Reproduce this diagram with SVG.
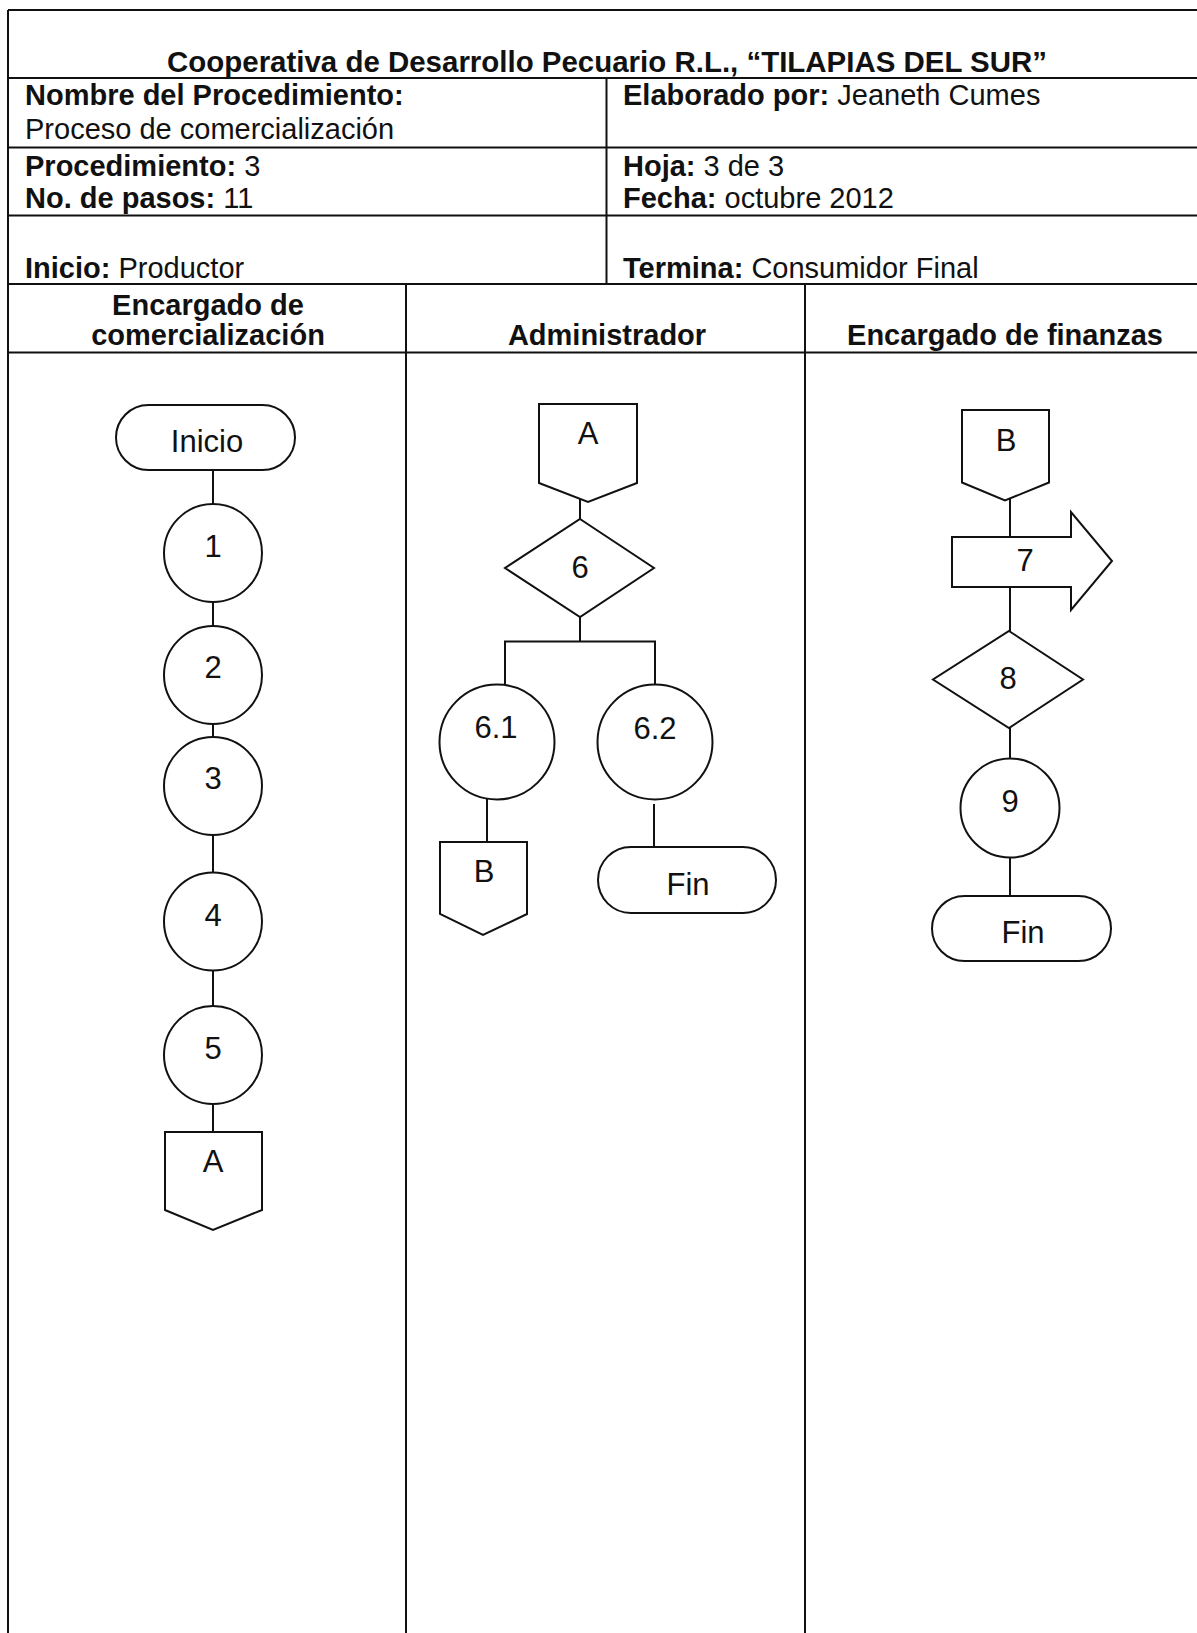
<svg xmlns="http://www.w3.org/2000/svg" width="1197" height="1633" viewBox="0 0 1197 1633">
<style>
.ln{stroke:#111;stroke-width:2;fill:none}
.sh{stroke:#111;stroke-width:2;fill:#fff}
.t{font-family:"Liberation Sans",Arial,sans-serif;font-size:29px;fill:#111}
.b{font-weight:bold}
.h{font-family:"Liberation Sans",Arial,sans-serif;font-size:29px;font-weight:bold;fill:#111;text-anchor:middle}
.d{font-family:"Liberation Sans",Arial,sans-serif;font-size:31px;fill:#111;text-anchor:middle}
.w{font-family:"Liberation Sans",Arial,sans-serif;font-size:31px;fill:#111;text-anchor:middle}
</style>
<rect width="1197" height="1633" fill="#fff"/>
<g id="table">
<line class="ln" x1="8" y1="10" x2="1197" y2="10"/>
<line class="ln" x1="8" y1="10" x2="8" y2="1633"/>
<line class="ln" x1="8" y1="78" x2="1197" y2="78"/>
<line class="ln" x1="8" y1="147.5" x2="1197" y2="147.5"/>
<line class="ln" x1="8" y1="215.5" x2="1197" y2="215.5"/>
<line class="ln" x1="8" y1="284" x2="1197" y2="284"/>
<line class="ln" x1="8" y1="352.5" x2="1197" y2="352.5"/>
<line class="ln" x1="606.5" y1="78" x2="606.5" y2="284"/>
<line class="ln" x1="406" y1="284" x2="406" y2="1633"/>
<line class="ln" x1="805" y1="284" x2="805" y2="1633"/>
<text class="t b" x="167" y="72" textLength="880" lengthAdjust="spacingAndGlyphs">Cooperativa de Desarrollo Pecuario R.L., “TILAPIAS DEL SUR”</text>
<text class="t b" x="25" y="105">Nombre del Procedimiento:</text>
<text class="t" x="25" y="139">Proceso de comercialización</text>
<text class="t" x="623" y="105"><tspan class="b">Elaborado por:</tspan> Jeaneth Cumes</text>
<text class="t" x="25" y="175.5"><tspan class="b">Procedimiento:</tspan> 3</text>
<text class="t" x="25" y="208"><tspan class="b">No. de pasos:</tspan> 11</text>
<text class="t" x="623" y="175.5"><tspan class="b">Hoja:</tspan> 3 de 3</text>
<text class="t" x="623" y="208"><tspan class="b">Fecha:</tspan> octubre 2012</text>
<text class="t" x="25" y="278"><tspan class="b">Inicio:</tspan> Productor</text>
<text class="t" x="623" y="278"><tspan class="b">Termina:</tspan> Consumidor Final</text>
<text class="h" x="208" y="315">Encargado de</text>
<text class="h" x="208" y="345">comercialización</text>
<text class="h" x="607" y="345">Administrador</text>
<text class="h" x="1005" y="345">Encargado de finanzas</text>
</g>
<g id="connectors">
<line class="ln" x1="213" y1="470" x2="213" y2="504"/>
<line class="ln" x1="213" y1="602" x2="213" y2="626"/>
<line class="ln" x1="213" y1="724" x2="213" y2="737"/>
<line class="ln" x1="213" y1="835" x2="213" y2="872.5"/>
<line class="ln" x1="213" y1="970.5" x2="213" y2="1006"/>
<line class="ln" x1="213" y1="1104" x2="213" y2="1132"/>
<line class="ln" x1="580" y1="499" x2="580" y2="519"/>
<line class="ln" x1="580" y1="617" x2="580" y2="641.5"/>
<polyline class="ln" points="505,685 505,641.5 655,641.5 655,685"/>
<line class="ln" x1="487" y1="799" x2="487" y2="842"/>
<line class="ln" x1="654" y1="804" x2="654" y2="847"/>
<line class="ln" x1="1010" y1="498.5" x2="1010" y2="537"/>
<line class="ln" x1="1010" y1="587" x2="1010" y2="631"/>
<line class="ln" x1="1010" y1="728" x2="1010" y2="759"/>
<line class="ln" x1="1010" y1="857.5" x2="1010" y2="896"/>
</g>
<g id="inicio">
<rect class="sh" x="116" y="405" width="179" height="65" rx="32.5"/>
<text class="w" x="207" y="452">Inicio</text>
</g>
<g id="n1"><circle class="sh" cx="213" cy="553" r="49"/><text class="d" x="213" y="557">1</text></g>
<g id="n2"><circle class="sh" cx="213" cy="675" r="49"/><text class="d" x="213" y="678">2</text></g>
<g id="n3"><circle class="sh" cx="213" cy="786" r="49"/><text class="d" x="213" y="789">3</text></g>
<g id="n4"><circle class="sh" cx="213" cy="921.5" r="49"/><text class="d" x="213" y="926">4</text></g>
<g id="n5"><circle class="sh" cx="213" cy="1055" r="49"/><text class="d" x="213" y="1059">5</text></g>
<g id="connA1">
<polygon class="sh" points="165,1132 262,1132 262,1210 213,1230 165,1210"/>
<text class="w" x="213" y="1172">A</text>
</g>
<g id="connA2">
<polygon class="sh" points="539,404 637,404 637,483 588,502 539,483"/>
<text class="w" x="588" y="444">A</text>
</g>
<g id="n6">
<polygon class="sh" points="580,519 654,568 580,617 505,568"/>
<text class="d" x="580" y="578">6</text>
</g>
<g id="n6_1"><circle class="sh" cx="497" cy="742" r="57.5"/><text class="d" x="496" y="738">6.1</text></g>
<g id="n6_2"><circle class="sh" cx="655" cy="742" r="57.5"/><text class="d" x="655" y="739">6.2</text></g>
<g id="connB2">
<polygon class="sh" points="440,842 527,842 527,914 483,935 440,914"/>
<text class="w" x="484" y="882">B</text>
</g>
<g id="fin2">
<rect class="sh" x="598" y="847" width="178" height="66" rx="33"/>
<text class="w" x="688" y="895">Fin</text>
</g>
<g id="connB3">
<polygon class="sh" points="962,410 1049,410 1049,482.5 1005,500.5 962,482.5"/>
<text class="w" x="1006" y="451">B</text>
</g>
<g id="n7">
<polygon class="sh" points="952,537 1071,537 1071,512 1112,561 1071,610 1071,587 952,587"/>
<text class="d" x="1025" y="571">7</text>
</g>
<g id="n8">
<polygon class="sh" points="1009,631 1083,679.5 1009,728 933,679.5"/>
<text class="d" x="1008" y="689">8</text>
</g>
<g id="n9"><circle class="sh" cx="1010" cy="808" r="49.5"/><text class="d" x="1010" y="812">9</text></g>
<g id="fin3">
<rect class="sh" x="932" y="896" width="179" height="65" rx="32.5"/>
<text class="w" x="1023" y="943">Fin</text>
</g>
</svg>
